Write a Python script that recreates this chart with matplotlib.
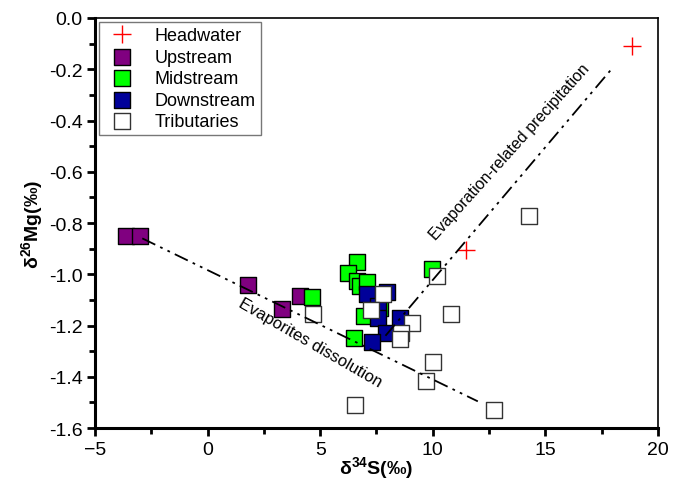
import matplotlib
matplotlib.use("Agg")
import matplotlib.pyplot as plt
from matplotlib.ticker import MultipleLocator

plt.rcParams["font.family"] = ["Liberation Sans", "DejaVu Sans"]
plt.rcParams["mathtext.fontset"] = "custom"
plt.rcParams["mathtext.rm"] = "Liberation Sans"
plt.rcParams["mathtext.bf"] = "Liberation Sans:bold"

# d34S, d26Mg per group
head_x = [18.85, 11.47]
head_y = [-0.11, -0.906]
up_x = [-3.62, -3.0, 1.79, 3.30, 4.10]
up_y = [-0.85, -0.85, -1.04, -1.137, -1.084]
mid_x = [4.64, 6.62, 6.25, 6.62, 6.77, 7.09, 7.66, 6.96, 6.50, 9.95]
mid_y = [-1.087, -0.952, -0.994, -1.026, -1.046, -1.03, -1.13, -1.163, -1.247, -0.98]
down_x = [7.09, 7.95, 7.58, 7.58, 8.54, 7.92, 7.28]
down_y = [-1.078, -1.07, -1.124, -1.17, -1.17, -1.228, -1.264]
trib_x = [4.69, 7.80, 7.26, 10.17, 9.06, 8.61, 8.54, 10.79, 10.03, 9.70, 12.73, 6.55, 14.29]
trib_y = [-1.156, -1.078, -1.139, -1.006, -1.19, -1.23, -1.254, -1.156, -1.342, -1.417, -1.53, -1.51, -0.772]

# trend lines (end points)
diss_x = [-2.9, 12.0]
diss_y = [-0.86, -1.496]
evap_x = [7.9, 18.0]
evap_y = [-1.24, -0.193]

fig = plt.figure(figsize=(6.8, 4.81), dpi=100)
ax = fig.add_axes([0.1397, 0.1081, 0.8279, 0.8524])

ms = 130
ax.scatter(up_x, up_y, s=ms, marker="s", color="#800080", edgecolor="black", linewidth=1, label="Upstream", zorder=3)
ax.scatter(mid_x, mid_y, s=ms, marker="s", color="#00ff00", edgecolor="black", linewidth=1, label="Midstream", zorder=3)
ax.scatter(down_x, down_y, s=ms, marker="s", color="#000099", edgecolor="black", linewidth=1, label="Downstream", zorder=3)
ax.scatter(trib_x, trib_y, s=ms, marker="s", color="white", edgecolor="#333333", linewidth=1, label="Tributaries", zorder=3)
ax.plot(head_x, head_y, "+", color="red", markersize=13, markeredgewidth=1, linestyle="none", label="Headwater", zorder=4)

dash = (8, 3, 1.5, 3, 1.5, 3)
ax.plot(diss_x, diss_y, color="black", linewidth=1.3, dashes=dash, zorder=5)
ax.plot(evap_x, evap_y, color="black", linewidth=1.3, dashes=dash, zorder=5)

ax.text(13.4, -0.52, "Evaporation-related precipitation", rotation=48, ha="center", va="center", fontsize=11.5)
ax.text(4.55, -1.265, "Evaporites dissolution", rotation=-30, ha="center", va="center", fontsize=12)

ax.set_xlim(-5, 20)
ax.set_ylim(-1.6, 0.0)
ax.xaxis.set_major_locator(MultipleLocator(5))
ax.xaxis.set_minor_locator(MultipleLocator(2.5))
ax.yaxis.set_major_locator(MultipleLocator(0.2))
ax.yaxis.set_minor_locator(MultipleLocator(0.1))
ax.yaxis.set_major_formatter(matplotlib.ticker.FormatStrFormatter("%.1f"))
ax.tick_params(which="major", direction="out", length=6, width=2, labelsize=14, pad=3)
ax.tick_params(which="minor", direction="out", length=4, width=2)
ax.spines["left"].set_linewidth(2.2)
ax.spines["bottom"].set_linewidth(2.2)
ax.spines["top"].set_linewidth(1.2)
ax.spines["right"].set_linewidth(1.2)

ax.set_xlabel(r"δ$^{\mathbf{34}}$S(‰)", fontsize=14, fontweight="bold", labelpad=-2)
ax.set_ylabel(r"δ$^{\mathbf{26}}$Mg(‰)", fontsize=14, fontweight="bold", labelpad=2)

h, l = ax.get_legend_handles_labels()
order = [4, 0, 1, 2, 3]
leg = ax.legend([h[i] for i in order], [l[i] for i in order], loc="upper left", fontsize=13,
                fancybox=False, edgecolor="#777777", framealpha=1, borderaxespad=0.2,
                handletextpad=0.8, labelspacing=0.25, borderpad=0.3)
leg.get_frame().set_linewidth(1)

fig.savefig("out.png", dpi=100)
